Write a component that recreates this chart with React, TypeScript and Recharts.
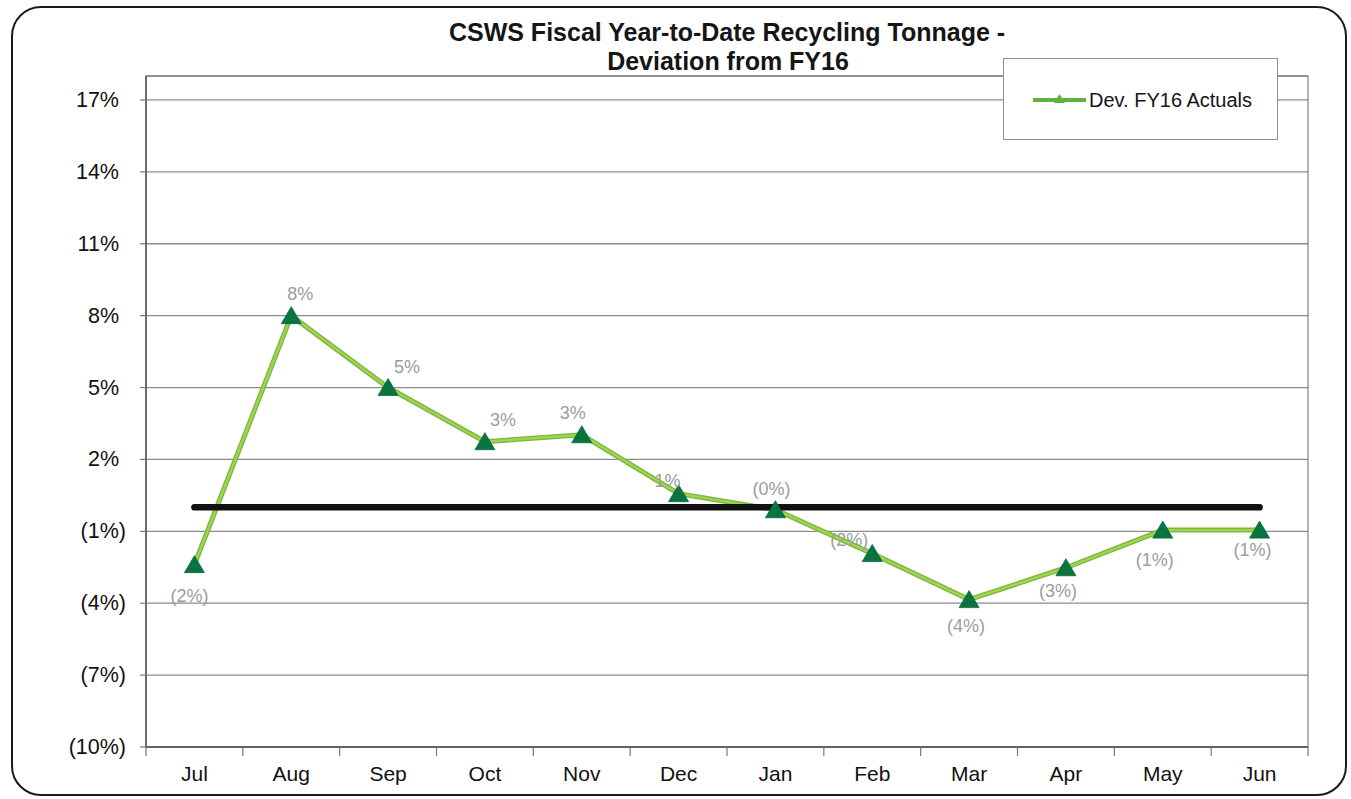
import React from 'react';
import {
  LineChart,
  Line,
  XAxis,
  YAxis,
  CartesianGrid,
  ReferenceArea,
  LabelList,
} from 'recharts';

// Fiscal-year months (Jul -> Jun)
const months = ['Jul', 'Aug', 'Sep', 'Oct', 'Nov', 'Dec', 'Jan', 'Feb', 'Mar', 'Apr', 'May', 'Jun'];

// Year-to-date recycling tonnage deviation from FY16 actuals, in percent
const deviationPct = [-2.39, 8.0, 5.0, 2.74, 3.03, 0.57, -0.1, -1.93, -3.85, -2.52, -0.95, -0.95];

// FY16 reference level (zero deviation)
const baselinePct = [0, 0, 0, 0, 0, 0, 0, 0, 0, 0, 0, 0];

// Value axis
const yDomain: [number, number] = [-10, 18];
const yTicks = [-10, -7, -4, -1, 2, 5, 8, 11, 14, 17];

// Per-point nudges for the data labels [dx, dy] in px
const labelNudges: [number, number][] = [
  [-5, 31], [9, -22], [19, -21], [18, -22], [-9, -22], [-11, -13],
  [-4, -21], [-23, -14], [-3, 26], [-8, 23], [-8, 30], [-7, 20],
];

const FONT = '"Liberation Sans", Arial, Helvetica, sans-serif';
const X_LABEL_GAP = 19;
const X_TICK_LEN = 9;

const rows = months.map((m, i) => ({
  idx: i,
  month: m,
  dev: deviationPct[i],
  base: baselinePct[i],
}));

const monthTicks = months.map((_, i) => i);

const fmtPct = (v: number) => {
  const r = Math.round(Math.abs(v));
  return v < 0 ? `(${r}%)` : `${r}%`;
};

const YTick = (props: any) => {
  const { x, y, payload } = props;
  const v = payload.value as number;
  return (
    <text
      x={x}
      y={y}
      dx={v >= 0 ? -7 : 0}
      textAnchor="end"
      dominantBaseline="central"
      fontFamily={FONT}
      fontSize={21.5}
      fill="#111"
    >
      {fmtPct(v)}
    </text>
  );
};

// Month label centred in its category, with tick marks on the category boundaries
const MonthTick = (props: any) => {
  const { x, y, payload, index, width } = props;
  const half = (width ?? 1162) / (months.length * 2);
  const axisY = y - X_LABEL_GAP;
  const last = index === months.length - 1;
  return (
    <g>
      <line x1={x - half} y1={axisY} x2={x - half} y2={axisY + X_TICK_LEN} stroke="#777" strokeWidth={1.2} />
      {last && (
        <line x1={x + half} y1={axisY} x2={x + half} y2={axisY + X_TICK_LEN} stroke="#777" strokeWidth={1.2} />
      )}
      <text x={x} y={y} dy="0.71em" textAnchor="middle" fontFamily={FONT} fontSize={21} fill="#111">
        {months[payload.value]}
      </text>
    </g>
  );
};

const renderTriangle = (props: any) => {
  const { cx, cy, index } = props;
  if (cx == null || cy == null) return <g key={`tri-${index}`} />;
  const pts = `${cx},${cy - 9} ${cx - 10},${cy + 8} ${cx + 10},${cy + 8}`;
  return <polygon key={`tri-${index}`} points={pts} fill="#0a7440" stroke="#0a6a3a" strokeWidth={0.8} />;
};

const renderDevLabel = (props: any) => {
  const { x, y, value, index } = props;
  const [dx, dy] = labelNudges[index] || [0, -20];
  return (
    <text
      x={x + dx}
      y={y + dy}
      textAnchor="middle"
      dominantBaseline="central"
      fontFamily={FONT}
      fontSize={18}
      fill="#9c9c9c"
    >
      {fmtPct(value)}
    </text>
  );
};

export default function App() {
  return (
    <div style={{ position: 'absolute', left: 0, top: 0, width: 1351, height: 799, background: '#fff', overflow: 'hidden' }}>
      {/* rounded outer frame */}
      <div
        style={{
          position: 'absolute',
          left: 11,
          top: 6,
          width: 1336,
          height: 790,
          border: '2px solid #1a1a1a',
          borderRadius: 30,
          boxSizing: 'border-box',
        }}
      />
      <div style={{ position: 'absolute', left: 0, top: 0 }}>
        <LineChart width={1351} height={799} data={rows} margin={{ top: 76, right: 43, bottom: 0, left: 86 }}>
          <CartesianGrid
            xAxisId="months"
            yAxisId="pct"
            vertical={false}
            stroke="#8c8c8c"
            strokeWidth={1.3}
          />
          <ReferenceArea
            xAxisId="months"
            yAxisId="pct"
            x1={-0.5}
            x2={months.length - 0.5}
            y1={yDomain[0]}
            y2={yDomain[1]}
            fill="none"
            stroke="#8c8c8c"
            strokeWidth={1.3}
            ifOverflow="visible"
          />
          <XAxis
            xAxisId="months"
            type="number"
            dataKey="idx"
            domain={[-0.5, months.length - 0.5]}
            ticks={monthTicks}
            interval={0}
            tickLine={false}
            axisLine={{ stroke: '#555', strokeWidth: 1.5 }}
            tickSize={0}
            tickMargin={X_LABEL_GAP}
            height={52}
            tick={<MonthTick />}
          />
          <YAxis
            yAxisId="pct"
            type="number"
            domain={yDomain}
            ticks={yTicks}
            interval={0}
            width={60}
            tickSize={6}
            tickMargin={14}
            axisLine={{ stroke: '#555', strokeWidth: 1.5 }}
            tickLine={{ stroke: '#777', strokeWidth: 1.2 }}
            tick={<YTick />}
          />
          <Line
            xAxisId="months"
            yAxisId="pct"
            dataKey="dev"
            stroke="#78b843"
            strokeWidth={5}
            dot={false}
            activeDot={false}
            isAnimationActive={false}
          />
          <Line
            xAxisId="months"
            yAxisId="pct"
            dataKey="dev"
            stroke="#a3d24c"
            strokeWidth={2.4}
            dot={false}
            activeDot={false}
            isAnimationActive={false}
          />
          <Line
            xAxisId="months"
            yAxisId="pct"
            dataKey="base"
            stroke="#121212"
            strokeWidth={6.5}
            strokeLinecap="round"
            dot={false}
            activeDot={false}
            isAnimationActive={false}
          />
          <Line
            xAxisId="months"
            yAxisId="pct"
            dataKey="dev"
            stroke="none"
            dot={renderTriangle}
            activeDot={false}
            isAnimationActive={false}
          >
            <LabelList dataKey="dev" content={renderDevLabel} />
          </Line>
        </LineChart>
      </div>

      {/* chart title */}
      <svg
        width={1351}
        height={90}
        style={{ position: 'absolute', left: 0, top: 0, pointerEvents: 'none' }}
      >
        <text x={727} y={41} textAnchor="middle" fontFamily={FONT} fontWeight="bold" fontSize={25} fill="#151515">
          CSWS Fiscal Year-to-Date Recycling Tonnage -
        </text>
        <text x={728} y={70} textAnchor="middle" fontFamily={FONT} fontWeight="bold" fontSize={25} fill="#151515">
          Deviation from FY16
        </text>
      </svg>

      {/* legend */}
      <div
        style={{
          position: 'absolute',
          left: 1003,
          top: 58,
          width: 275,
          height: 82,
          border: '1.5px solid #8f8f8f',
          background: '#fff',
          boxSizing: 'border-box',
        }}
      >
        <svg width={272} height={79} style={{ position: 'absolute', left: 0, top: 0 }}>
          <line x1={29} y1={41} x2={82} y2={41} stroke="#5fb23e" strokeWidth={4} />
          <polygon points="55.5,35 50,44 61,44" fill="#5fb23e" />
          <text x={85} y={48} fontFamily={FONT} fontSize={20} fill="#151515">
            Dev. FY16 Actuals
          </text>
        </svg>
      </div>
    </div>
  );
}
